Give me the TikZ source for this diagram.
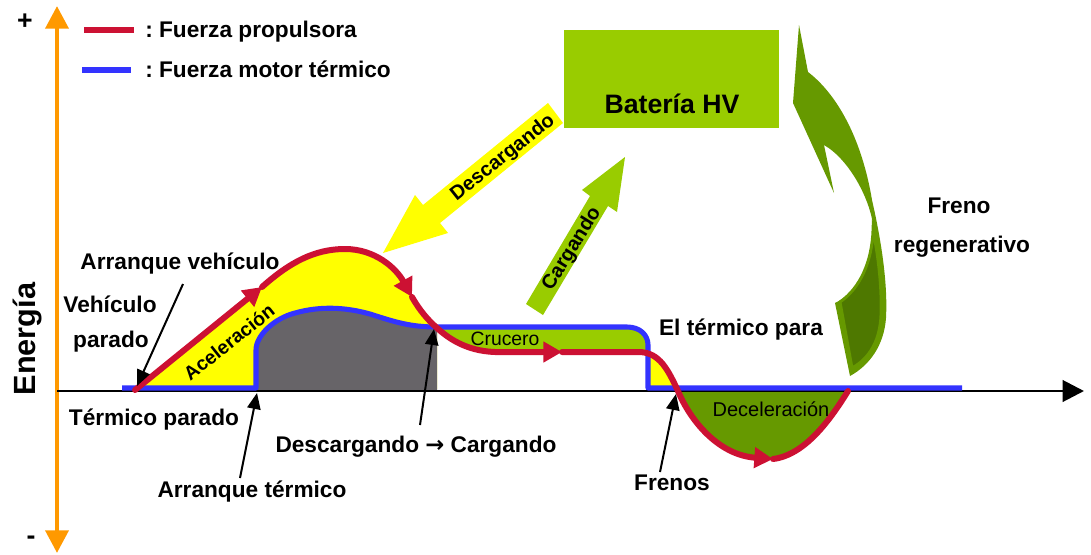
\documentclass[tikz,border=0pt]{standalone}
\usepackage{fontspec}
\setmainfont{Liberation Sans}
\newfontfamily\arrowfont{DejaVu Sans}
\usetikzlibrary{arrows.meta}
\definecolor{cred}{HTML}{CC1133}
\definecolor{cblue}{HTML}{3333FF}
\definecolor{cyel}{HTML}{FFFF00}
\definecolor{clg}{HTML}{99CC00}
\definecolor{cdg}{HTML}{669900}
\definecolor{cdk}{HTML}{4E7800}
\definecolor{cgray}{HTML}{676468}
\definecolor{corange}{HTML}{FF9900}
\begin{document}
\begin{tikzpicture}[x=0.75pt,y=-0.75pt,
  lbl/.style={font=\bfseries\fontsize{17}{20}\selectfont, inner sep=0pt, anchor=base},
  ann/.style={line width=1.5pt, -{Triangle[length=12pt,width=10pt]}},
  redline/.style={cred, line width=4.5pt, line cap=round, line join=round},
  redtip/.style={-{Triangle[length=14pt,width=15pt]}},
  blueline/.style={cblue, line width=3.8pt, line join=round},
  legline/.style={line width=5pt}]
\path[use as bounding box] (0,0) rectangle (1091,554);

% ---------- filled regions ----------
\fill[cyel] (135,390) -- (262,287) .. controls (290,262) and (315,249) .. (345,249)
  .. controls (375,249) and (396,268) .. (412,297) .. controls (420,311) and (428,320) .. (437,328)
  -- (437,389) -- (135,389) -- cycle;
\fill[cgray] (256,391) -- (256,350) .. controls (256,335) and (275,318) .. (295,313)
  .. controls (320,306) and (345,307) .. (370,314) .. controls (395,322) and (410,327) .. (437,327)
  -- (437,391) -- cycle;
\fill[clg] (437,327) -- (627,327) .. controls (640,327) and (648,335) .. (648,345) -- (648,354)
  -- (640,352) -- (495,352) .. controls (465,351) and (447,337) .. (437,328) -- cycle;
\fill[cyel] (648,354) -- (648,390) -- (678,390) .. controls (668,370) and (660,353) .. (640,352) -- cycle;
\fill[cdg] (678,391) .. controls (690,420) and (718,455) .. (773,459)
  .. controls (805,455) and (830,420) .. (848,391) -- cycle;

% ---------- axes ----------
\draw[corange, line width=3.5pt, {Triangle[length=17pt,width=17pt]}-{Triangle[length=17pt,width=17pt]}]
  (57,553) -- (57,6);
\draw[black, line width=2.2pt, -{Triangle[length=16pt,width=16pt]}] (57,391) -- (1084,391);

% ---------- engine force (blue) ----------
\draw[blueline] (122,388) -- (256,388) -- (256,350) .. controls (256,335) and (275,318) .. (295,313)
  .. controls (320,306) and (345,307) .. (370,314) .. controls (395,322) and (410,327) .. (437,327)
  -- (627,327) .. controls (640,327) and (648,335) .. (648,345) -- (648,388) -- (962,388);

% ---------- propulsion force (red) ----------
\draw[redline, redtip] (135,390) -- (262,287);
\draw[redline, redtip] (262,287) .. controls (290,262) and (315,249) .. (345,249)
  .. controls (375,249) and (396,268) .. (412,297);
\draw[redline, redtip] (412,297) .. controls (420,311) and (428,320) .. (437,328)
  .. controls (447,337) and (465,351) .. (495,352) -- (562,352);
\draw[redline, redtip] (562,352) -- (640,352) .. controls (660,353) and (668,370) .. (678,391)
  .. controls (690,420) and (718,455) .. (773,459);
\draw[redline] (773,459) .. controls (805,455) and (830,420) .. (848,391);

% ---------- battery and flow arrows ----------
\node (bat) [fill=clg, inner sep=0pt, minimum width=161.25pt, minimum height=73.5pt] at (671.5,79) {};
\node (battxt) [lbl, font=\bfseries\fontsize{20}{24}\selectfont] at (672,113) {Batería HV};

\fill[cyel] (548,103) -- (563,123) -- (440,223) -- (448,233) -- (383,253) -- (415,195) -- (423,205) -- cycle;
\node (desc) [font=\bfseries\fontsize{15}{18}\selectfont, rotate=38.5, inner sep=0pt] at (503,158) {Descargando};

\fill[clg] (526,304) -- (590,196) -- (582,190) -- (625,157) -- (617,212) -- (608,206) -- (543,315) -- cycle;
\node (carg) [font=\bfseries\fontsize{15}{18}\selectfont, rotate=58, inner sep=0pt] at (572,249) {Cargando};

% ---------- regenerative brake arrow ----------
\fill[cdg] (799,25) -- (808,72) .. controls (838,95) and (862,140) .. (872,200)
  .. controls (880,235) and (888,280) .. (886,318) .. controls (884,345) and (870,365) .. (850,376)
  -- (835,303) .. controls (858,292) and (872,265) .. (873,225)
  .. controls (870,200) and (850,160) .. (824,145) -- (834,193) -- (793,103) -- cycle;
\filldraw[fill=cdk, draw=cdg, line width=2.2pt] (873,230) .. controls (872,262) and (860,288) .. (840,302)
  -- (852,368) .. controls (870,358) and (880,340) .. (881,315) .. controls (882,285) and (878,255) .. (873,230) -- cycle;

% ---------- legend ----------
\draw[cred, legline] (84,30) -- (134,30);
\draw[cblue, legline] (82,70) -- (131,70);
\node (lg1) [lbl, anchor=base west] at (145,37) {:\ Fuerza propulsora};
\node (lg2) [lbl, anchor=base west] at (145,77) {:\ Fuerza motor térmico};

% ---------- axis labels ----------
\node (plus) [font=\bfseries\fontsize{20}{24}\selectfont] at (25,22) {+};
\node (minus) [font=\bfseries\fontsize{20}{24}\selectfont] at (31,540) {-};
\node (energ) [lbl, font=\bfseries\fontsize{23}{26}\selectfont, rotate=90] at (36,339) {Energía};

% ---------- region labels ----------
\node (acel) [font=\bfseries\fontsize{14.5}{17}\selectfont, rotate=38.5, inner sep=0pt] at (229,342) {Aceleración};
\node (cruc) [lbl, font=\fontsize{14.5}{17}\selectfont] at (505,345) {Crucero};
\node (decel) [lbl, font=\fontsize{15}{18}\selectfont] at (771,416) {Deceleración};

% ---------- annotations ----------
\node (arrv) [lbl] at (180,269) {Arranque vehículo};
\node (vehp1) [lbl] at (110,312) {Vehículo};
\node (vehp2) [lbl] at (111,347) {parado};
\node (termp) [lbl] at (154,425) {Térmico parado};
\node (arrt) [lbl] at (252,497) {Arranque térmico};
\node (dc) [lbl] at (416,452) {Descargando {\arrowfont\bfseries →} Cargando};
\node (fren) [lbl] at (672,490) {Frenos};
\node (etp) [lbl] at (741,335) {El térmico para};
\node (fr1) [lbl] at (959,213) {Freno};
\node (fr2) [lbl] at (962,252) {regenerativo};

\coordinate (avS) at (183,284); \coordinate (avE) at (137,386);
\coordinate (atS) at (240,478); \coordinate (atE) at (257,393);
\coordinate (dcS) at (420,425); \coordinate (dcE) at (434,329);
\coordinate (frS) at (660,472); \coordinate (frE) at (676,394);
\draw[ann] (avS) -- (avE);
\draw[ann] (atS) -- (atE);
\draw[ann] (dcS) -- (dcE);
\draw[ann] (frS) -- (frE);
\end{tikzpicture}
\end{document}
